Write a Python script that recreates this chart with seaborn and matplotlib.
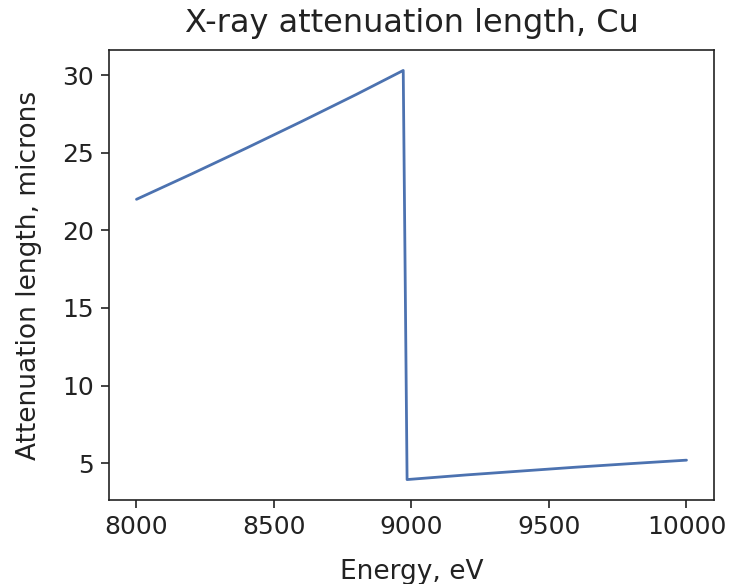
import numpy as np
import pandas as pd
import matplotlib
matplotlib.use('Agg')
import matplotlib.pyplot as plt
import seaborn as sns

# values
energy_ev = [8000, 8200, 8400, 8600, 8800, 8970, 8984, 9200, 9400, 9600, 9800, 10000]
atten_um = [22.0, 23.63, 25.30, 27.01, 28.76, 30.3, 3.95, 4.25, 4.5, 4.75, 4.98, 5.2]

df = pd.DataFrame({'Energy': energy_ev, 'Length': atten_um})

sns.set_style('ticks')
plt.rcParams['font.family'] = ['DejaVu Sans']

fig = plt.figure(figsize=(7.29, 5.84), dpi=100)
ax = fig.add_axes([0.1495, 0.1438, 0.8299, 0.7706])
sns.lineplot(data=df, x='Energy', y='Length', color='#4c72b0', linewidth=2.0,
             estimator=None, sort=False, ax=ax)

ax.set_xticks([8000, 8500, 9000, 9500, 10000])
ax.set_yticks([5, 10, 15, 20, 25, 30])
ax.tick_params(labelsize=18, colors='#222222', length=6, width=1.2, pad=5)
for s in ax.spines.values():
    s.set_color('#222222')
    s.set_linewidth(1.2)
ax.set_xlabel('Energy, eV', fontsize=19, color='#222222', labelpad=14)
ax.set_ylabel('Attenuation length, microns', fontsize=19, color='#222222', labelpad=14)
ax.set_title('X-ray attenuation length, Cu', fontsize=23, color='#222222', pad=13)

fig.savefig('out.png', dpi=100)
